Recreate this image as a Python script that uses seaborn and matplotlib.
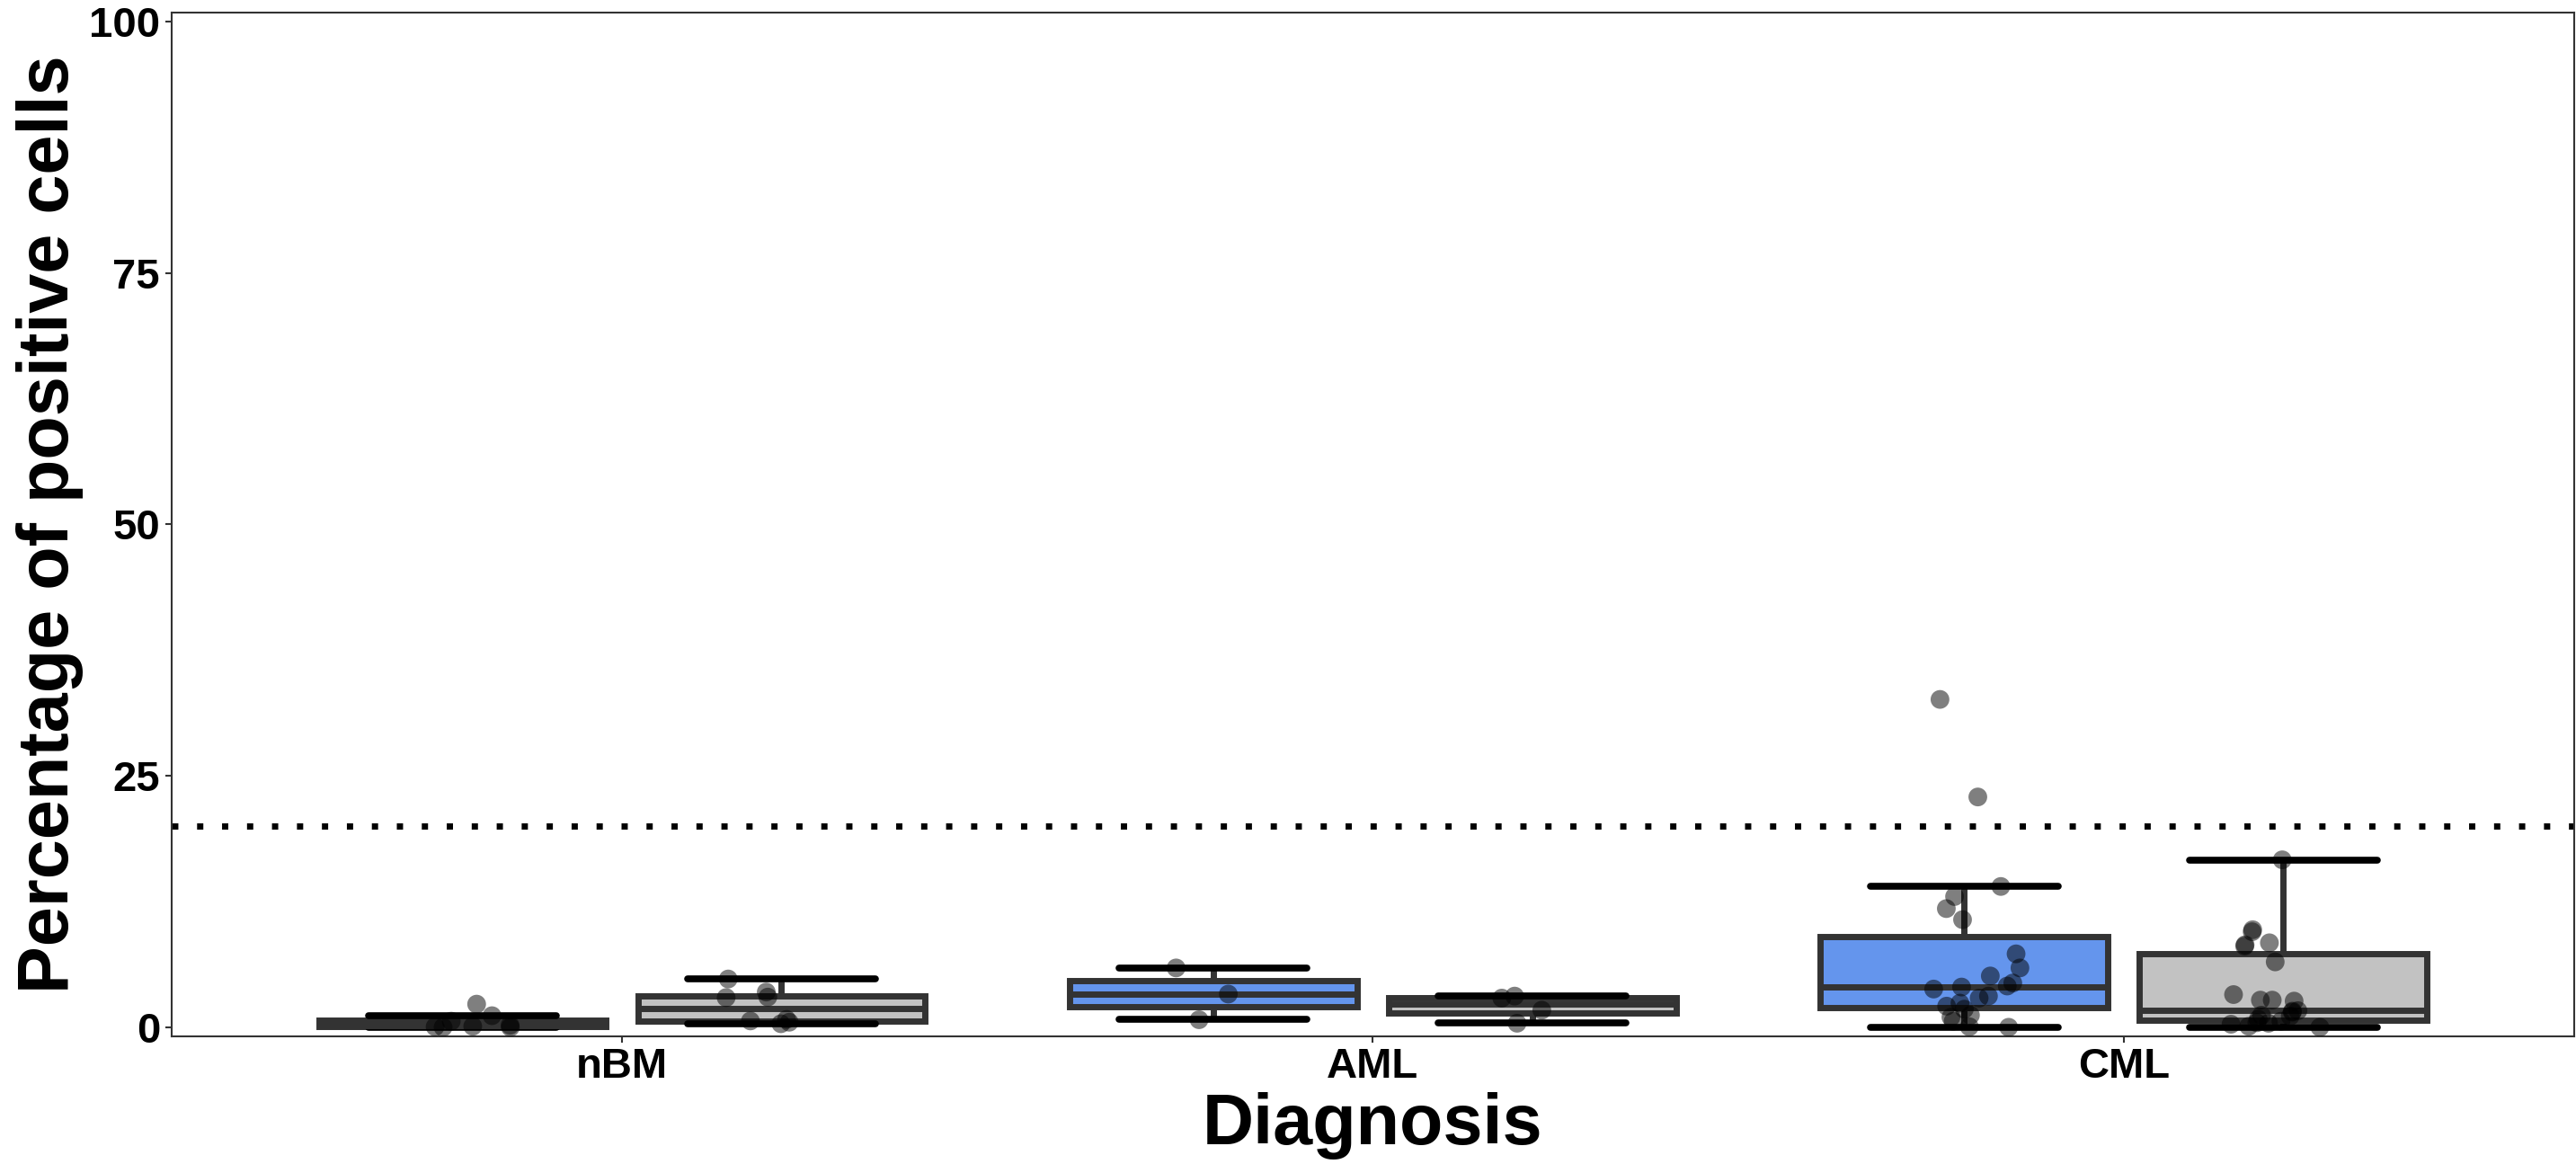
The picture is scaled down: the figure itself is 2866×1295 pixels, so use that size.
import matplotlib
matplotlib.use("Agg")
import matplotlib.pyplot as plt
import seaborn as sns
import numpy as np
import pandas as pd


# values (percentage of positive cells)
diagnoses = ["nBM", "AML", "CML"]
groups = ["Group A", "Group B"]
nbm_a = [2.3, 1.15, 0.6, 0.1, 0.2, 0.0, 0.05, 0.0]
nbm_b = [4.8, 3.5, 2.95, 3.0, 0.78, 0.63, 0.5, 0.35]
aml_a = [5.9, 3.3, 0.75]
aml_b = [3.1, 2.9, 1.7, 0.4]
cml_a = [32.6, 22.9, 14.0, 13.0, 11.8, 10.7, 7.3, 5.9, 5.1, 4.4, 4.1, 4.0,
         3.8, 3.1, 2.9, 2.4, 2.1, 1.8, 1.2, 1.0, 0.6, 0.05, 0.0]
cml_b = [16.65, 9.7, 9.5, 8.4, 8.2, 8.07, 6.5, 3.25, 2.7, 2.7, 2.6, 1.65,
         1.6, 1.5, 1.2, 1.1, 0.8, 0.6, 0.45, 0.4, 0.3, 0.1, 0.0]
cutoff = 20
colors = ["#6495ED", "#C2C2C2"]

rows = []
for diag, vals_a, vals_b in zip(diagnoses, [nbm_a, aml_a, cml_a], [nbm_b, aml_b, cml_b]):
    for v in vals_a:
        rows.append((diag, groups[0], v))
    for v in vals_b:
        rows.append((diag, groups[1], v))
df = pd.DataFrame(rows, columns=["Diagnosis", "Group", "pct"])

sns.set_style("white")
plt.rcParams["font.family"] = ["Liberation Sans", "DejaVu Sans"]
plt.rcParams["font.weight"] = "bold"
plt.rcParams["text.color"] = "black"
plt.rcParams["axes.labelcolor"] = "black"
plt.rcParams["xtick.labelcolor"] = "black"
plt.rcParams["ytick.labelcolor"] = "black"

fig, ax = plt.subplots(figsize=(28.66, 12.95), dpi=100)
fig.subplots_adjust(left=0.0665, right=0.9993, bottom=0.1097, top=0.9892)

sns.boxplot(data=df, x="Diagnosis", y="pct", hue="Group", order=diagnoses,
            hue_order=groups, palette=colors, saturation=1, width=0.85, gap=0.1,
            linecolor="#333333", linewidth=5, showfliers=False,
            capprops={"color": "black", "linewidth": 5.5},
            capwidths=0.25, legend=False, ax=ax)

np.random.seed(3)
sns.stripplot(data=df, x="Diagnosis", y="pct", hue="Group", order=diagnoses,
              hue_order=groups, palette=["black", "black"], dodge=True,
              jitter=0.13, size=15, alpha=0.5, linewidth=0, legend=False, ax=ax)

ax.axhline(cutoff, color="black", linewidth=5, linestyle=(0, (1, 3)),
           dash_capstyle="butt", zorder=1)

ax.set_xlim(-0.6, 2.6)
ax.set_ylim(-0.9, 100.9)
ax.set_yticks([0, 25, 50, 75, 100])
ax.set_xlabel("Diagnosis", fontsize=57, fontweight="bold", labelpad=4, color="black")
ax.set_ylabel("Percentage of positive cells", fontsize=57, fontweight="bold",
              labelpad=4, color="black")
ax.tick_params(axis="both", labelsize=34, length=5, width=1.5, color="#333333",
               labelcolor="black", left=True, bottom=True)
ax.tick_params(axis="x", pad=4)
ax.tick_params(axis="y", pad=4)
for lab in ax.get_xticklabels() + ax.get_yticklabels():
    lab.set_fontweight("bold")
for s in ax.spines.values():
    s.set_color("#333333")
    s.set_linewidth(1.5)

plt.savefig("out.png", dpi=100)
